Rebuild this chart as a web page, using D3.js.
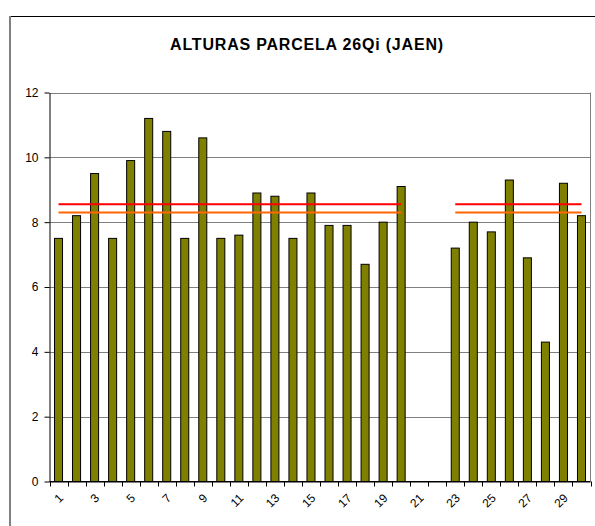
<!DOCTYPE html>
<html>
<head>
<meta charset="utf-8">
<script src="https://cdn.jsdelivr.net/npm/d3@7"></script>
<style>
  body { margin: 0; background: #fff; }
  text { font-family: "Liberation Sans", Arial, sans-serif; }
</style>
</head>
<body>
<div id="chart"></div>
<script>
(function() {
	var width = 595,
		height = 526;

	// datos
	var parcelas = d3.range(1, 31).map(String);
	var alturas = [7.5, 8.2, 9.5, 7.5, 9.9, 11.2, 10.8, 7.5, 10.6, 7.5,
		7.6, 8.9, 8.8, 7.5, 8.9, 7.9, 7.9, 6.7, 8.0, 9.1,
		null, null, 7.2, 8.0, 7.7, 9.3, 6.9, 4.3, 9.2, 8.2];
	var lineaRoja = [8.55, 8.55, 8.55, 8.55, 8.55, 8.55, 8.55, 8.55, 8.55, 8.55,
		8.55, 8.55, 8.55, 8.55, 8.55, 8.55, 8.55, 8.55, 8.55, 8.55,
		null, null, 8.55, 8.55, 8.55, 8.55, 8.55, 8.55, 8.55, 8.55];
	var lineaNaranja = [8.3, 8.3, 8.3, 8.3, 8.3, 8.3, 8.3, 8.3, 8.3, 8.3,
		8.3, 8.3, 8.3, 8.3, 8.3, 8.3, 8.3, 8.3, 8.3, 8.3,
		null, null, 8.3, 8.3, 8.3, 8.3, 8.3, 8.3, 8.3, 8.3];
	var yTicks = [0, 2, 4, 6, 8, 10, 12];
	var titulo = "ALTURAS PARCELA 26Qi (JAEN)";

	var plot = {left: 49.5, right: 590.5, top: 92.5, bottom: 481.5};

	var svg = d3.select("#chart")
		.append("svg")
		.attr("width", width)
		.attr("height", height);

	// marco exterior
	svg.append("line")
		.attr("x1", 10).attr("x2", width)
		.attr("y1", 16.5).attr("y2", 16.5)
		.attr("stroke", "#000").attr("stroke-width", 1);
	svg.append("line")
		.attr("x1", 10).attr("x2", 10)
		.attr("y1", 16).attr("y2", height)
		.attr("stroke", "#808080").attr("stroke-width", 2);

	svg.append("text")
		.attr("x", 307)
		.attr("y", 50)
		.attr("text-anchor", "middle")
		.attr("font-size", "16px")
		.attr("font-weight", "bold")
		.attr("letter-spacing", "0.8px")
		.text(titulo);

	var x0 = d3.scaleBand()
		.domain(parcelas)
		.range([plot.left, plot.right])
		.padding(0);

	var x = d3.scaleBand()
		.domain(parcelas)
		.range([plot.left, plot.right])
		.paddingInner(0.555)
		.paddingOuter(0.2775);

	var y = d3.scaleLinear()
		.domain([0, 12])
		.range([plot.bottom, plot.top]);

	// rejilla
	svg.append("g")
		.selectAll("line")
		.data(yTicks)
		.enter().append("line")
		.attr("x1", plot.left).attr("x2", plot.right)
		.attr("y1", function(d) { return Math.round(y(d)) + 0.5; })
		.attr("y2", function(d) { return Math.round(y(d)) + 0.5; })
		.attr("stroke", "#808080")
		.attr("stroke-width", 1);

	// borde derecho del area
	svg.append("line")
		.attr("x1", plot.right).attr("x2", plot.right)
		.attr("y1", plot.top).attr("y2", plot.bottom)
		.attr("stroke", "#808080");

	// eje y
	var yAxis = svg.append("g")
		.attr("transform", "translate(" + plot.left + ",0)")
		.call(d3.axisLeft(y).tickValues(yTicks).tickSize(5).tickSizeOuter(0).tickPadding(6));
	yAxis.select(".domain").attr("stroke", "#000");
	yAxis.selectAll("text").attr("font-size", "12px").attr("fill", "#000")
		.attr("font-family", "'Liberation Sans', Arial, sans-serif");

	// barras
	svg.append("g")
		.selectAll(".barra")
		.data(alturas.map(function(v, i) { return {p: parcelas[i], v: v}; })
			.filter(function(d) { return d.v != null; }))
		.enter().append("rect")
		.attr("class", "barra")
		.attr("x", function(d) { return x(d.p); })
		.attr("width", x.bandwidth())
		.attr("y", function(d) { return y(d.v); })
		.attr("height", function(d) { return y(0) - y(d.v); })
		.attr("fill", "#808000")
		.attr("stroke", "#000")
		.attr("stroke-width", 1);

	// eje x
	svg.append("line")
		.attr("x1", plot.left).attr("x2", plot.right)
		.attr("y1", plot.bottom).attr("y2", plot.bottom)
		.attr("stroke", "#000");
	var limites = parcelas.map(function(p) { return x0(p); }).concat([plot.right]);
	svg.append("g")
		.selectAll("line")
		.data(limites)
		.enter().append("line")
		.attr("x1", function(d) { return Math.round(d) + 0.5; })
		.attr("x2", function(d) { return Math.round(d) + 0.5; })
		.attr("y1", plot.bottom).attr("y2", plot.bottom + 5)
		.attr("stroke", "#000");

	svg.append("g")
		.selectAll("text")
		.data(parcelas.filter(function(p, i) { return i % 2 === 0; }))
		.enter().append("text")
		.attr("transform", function(d) {
			return "translate(" + (x0(d) + x0.bandwidth() / 2 - 1) + "," + (plot.bottom + 11) + ") rotate(-45)";
		})
		.attr("text-anchor", "end")
		.attr("dy", "0.75em")
		.attr("font-size", "12px")
		.text(function(d) { return d; });

	// lineas de referencia
	var linea = d3.line()
		.defined(function(d) { return d.v != null; })
		.x(function(d) { return x0(d.p) + x0.bandwidth() / 2; })
		.y(function(d) { return y(d.v); });

	[[lineaNaranja, "#FF6600"], [lineaRoja, "#FF0000"]].forEach(function(s) {
		svg.append("path")
			.datum(s[0].map(function(v, i) { return {p: parcelas[i], v: v}; }))
			.attr("d", linea)
			.attr("fill", "none")
			.attr("stroke", s[1])
			.attr("stroke-width", 2);
	});
})();
</script>
</body>
</html>
